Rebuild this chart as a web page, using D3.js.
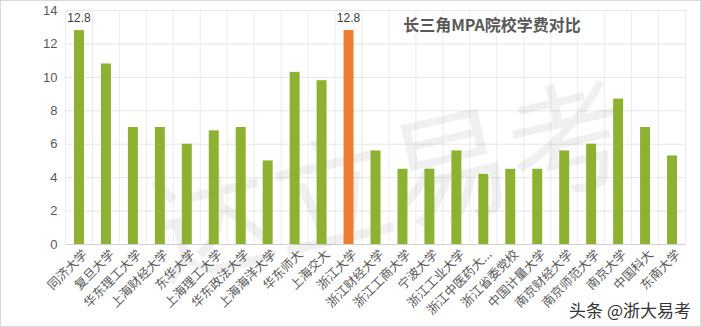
<!DOCTYPE html>
<html>
<head>
<meta charset="utf-8">
<script src="https://cdn.jsdelivr.net/npm/d3@7"></script>
<style>
  body { margin: 0; background: #fff; }
  svg { display: block; font-family: "Noto Sans CJK SC", "Noto Sans", sans-serif; }
</style>
</head>
<body>
<svg id="chart" width="701" height="327"></svg>
<script>
const schools = ['同济大学', '复旦大学', '华东理工大学', '上海财经大学', '东华大学', '上海理工大学',
  '华东政法大学', '上海海洋大学', '华东师大', '上海交大', '浙江大学', '浙江财经大学', '浙江工商大学',
  '宁波大学', '浙江工业大学', '浙江中医药大...', '浙江省委党校', '中国计量大学', '南京财经大学',
  '南京师范大学', '南京大学', '中国科大', '东南大学'];
const fees = [12.8, 10.8, 7, 7, 6, 6.8, 7, 5, 10.3, 9.8, 12.8, 5.6, 4.5, 4.5, 5.6, 4.2, 4.5, 4.5,
  5.6, 6, 8.7, 7, 5.3];
const highlight = '浙江大学';
const labelled = ['同济大学', '浙江大学'];
const yTicks = [0, 2, 4, 6, 8, 10, 12, 14];
const title = '长三角MPA院校学费对比';

const width = 701;
const height = 327;
const margin = {top: 10, right: 15.5, bottom: 83, left: 65.5};

const svg = d3.select('#chart');

// light frame round the picture
svg.append('rect')
  .attr('x', 0.5).attr('y', 0.5)
  .attr('width', width - 1).attr('height', height - 1)
  .attr('fill', '#fff').attr('stroke', '#d9d9d9');

const x = d3.scaleBand()
  .domain(schools)
  .range([margin.left, width - margin.right])
  .paddingInner(0.63)
  .paddingOuter(0.315);

const y = d3.scaleLinear()
  .domain([0, 14])
  .range([height - margin.bottom, margin.top]);

// grid
const step = x.step();
const bounds = d3.range(schools.length + 1).map(i => margin.left + i * step);
svg.append('g')
  .selectAll('line')
  .data(bounds)
  .join('line')
  .attr('x1', d => d).attr('x2', d => d)
  .attr('y1', y(14)).attr('y2', y(0))
  .attr('stroke', '#ececec');

svg.append('g')
  .attr('transform', `translate(${margin.left},0)`)
  .call(d3.axisLeft(y).tickValues(yTicks).tickSize(-(width - margin.left - margin.right)).tickPadding(8))
  .call(g => g.select('.domain').remove())
  .call(g => g.selectAll('.tick line').attr('stroke', d => d === 0 ? '#d0d0d0' : '#e6e6e6'))
  .call(g => g.selectAll('.tick text')
    .attr('fill', '#595959')
    .style('font-size', '13px')
    .style('font-family', '"Liberation Sans", Arial, sans-serif'));

// watermark
svg.append('text')
  .attr('transform', 'translate(400,225) rotate(-13)')
  .attr('text-anchor', 'middle')
  .attr('fill', '#000')
  .attr('fill-opacity', 0.06)
  .style('font-size', '122px')
  .text('达立易考');

// bars
svg.append('g')
  .selectAll('rect')
  .data(fees)
  .join('rect')
  .attr('x', (d, i) => x(schools[i]))
  .attr('y', d => y(d))
  .attr('width', x.bandwidth())
  .attr('height', d => y(0) - y(d))
  .attr('fill', (d, i) => schools[i] === highlight ? '#ed7d31' : '#8db232');

// value labels
svg.append('g')
  .selectAll('text')
  .data(fees.map((v, i) => ({name: schools[i], value: v})).filter(d => labelled.includes(d.name)))
  .join('text')
  .attr('x', d => x(d.name) + x.bandwidth() / 2)
  .attr('y', d => y(d.value) - 8)
  .attr('text-anchor', 'middle')
  .attr('fill', '#404040')
  .style('font-size', '12px')
  .style('font-family', '"Liberation Sans", Arial, sans-serif')
  .text(d => d.value);

// x axis labels
svg.append('g')
  .attr('transform', `translate(0,${y(0)})`)
  .call(d3.axisBottom(x).tickSize(0).tickPadding(0))
  .call(g => g.select('.domain').remove())
  .call(g => g.selectAll('.tick text')
    .attr('transform', 'translate(6,8) rotate(-45)')
    .attr('text-anchor', 'end')
    .attr('dy', '0.35em')
    .attr('y', 0)
    .attr('fill', '#595959')
    .style('font-size', '12.5px')
    .style('font-family', '"Noto Sans CJK SC", sans-serif'));

// title
svg.append('text')
  .attr('x', 492).attr('y', 31)
  .attr('text-anchor', 'middle')
  .attr('fill', '#595959')
  .style('font-size', '16px')
  .style('font-weight', 'bold')
  .text(title);

// source mark
svg.append('text')
  .attr('x', 691).attr('y', 317)
  .attr('text-anchor', 'end')
  .attr('fill', '#333')
  .style('font-size', '17px')
  .text('头条 @浙大易考');
</script>
</body>
</html>
